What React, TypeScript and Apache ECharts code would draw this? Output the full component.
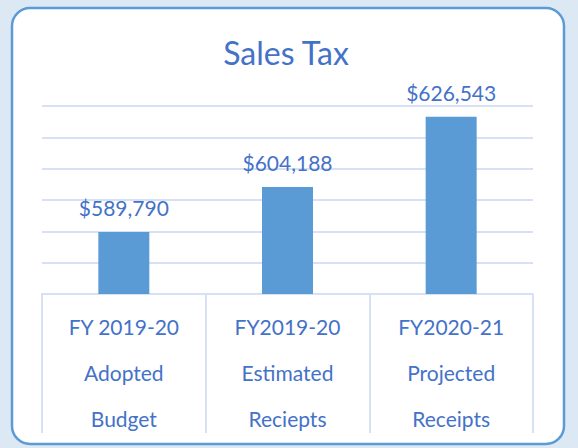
import React, { useEffect, useRef } from "react";
import * as echarts from "echarts";

const categories = [
  "FY 2019-20\nAdopted\nBudget",
  "FY2019-20\nEstimated\nReciepts",
  "FY2020-21\nProjected\nReceipts",
];
const values = [589790, 604188, 626543];
const titleText = "Sales Tax";

const FONT = "Lato, 'Noto Sans', sans-serif";
const TEXT_COLOR = "#4472c8";
const GRID_COLOR = "#d6e2f4";

export default function App() {
  const ref = useRef<HTMLDivElement>(null);
  useEffect(() => {
    if (!ref.current) return;
    const chart = echarts.init(ref.current, undefined, { renderer: "svg" });
    chart.setOption({
      animation: false,
      backgroundColor: "#dde8f5",
      graphic: [
        {
          type: "rect",
          z: -100,
          shape: { x: 12, y: 8, width: 552, height: 436, r: 18 },
          style: { fill: "#ffffff", stroke: "#5b9bd5", lineWidth: 2.5 },
        },
        {
          type: "text",
          z: 10,
          x: 286,
          y: 52,
          style: {
            text: titleText,
            fill: TEXT_COLOR,
            font: `32px ${FONT}`,
            textAlign: "center",
            textVerticalAlign: "middle",
          },
        },
      ],
      grid: { left: 42, right: 45, top: 106, bottom: 154 },
      xAxis: {
        type: "category",
        data: categories,
        axisLine: { show: true, lineStyle: { color: GRID_COLOR, width: 2 } },
        axisTick: {
          show: true,
          length: 139,
          lineStyle: { color: GRID_COLOR, width: 2 },
        },
        axisLabel: {
          color: TEXT_COLOR,
          fontFamily: FONT,
          fontSize: 21,
          lineHeight: 46,
          margin: 9,
        },
      },
      yAxis: {
        type: "value",
        min: 570000,
        max: 630000,
        interval: 10000,
        axisLabel: { show: false },
        axisLine: { show: false },
        axisTick: { show: false },
        splitLine: { lineStyle: { color: GRID_COLOR, width: 2 } },
      },
      series: [
        {
          type: "bar",
          data: values,
          barWidth: 51,
          itemStyle: { color: "#5b9bd5" },
          label: {
            show: true,
            position: "top",
            distance: 14,
            color: TEXT_COLOR,
            fontFamily: FONT,
            fontSize: 21,
            formatter: (p: any) => "$" + Number(p.value).toLocaleString("en-US"),
          },
        },
      ],
    });
    return () => chart.dispose();
  }, []);
  return (
    <div
      ref={ref}
      style={{ position: "absolute", left: 0, top: 0, width: 578, height: 448 }}
    />
  );
}
